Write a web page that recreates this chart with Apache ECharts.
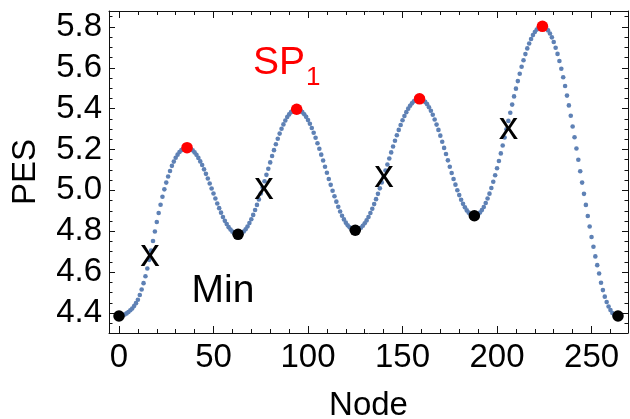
<!DOCTYPE html>
<html>
<head>
<meta charset="utf-8">
<script src="https://cdn.jsdelivr.net/npm/echarts@6/dist/echarts.min.js"></script>
<style>
html,body{margin:0;padding:0;background:#fff;}
#c{width:630px;height:419px;}
</style>
</head>
<body>
<div id="c"></div>
<script>
// PES value at each node (node index = array index, 0..264)
const pes = [
4.385,4.386,4.388,4.392,4.398,4.405,4.413,4.422,4.434,4.448,
4.465,4.488,4.515,4.546,4.580,4.618,4.660,4.705,4.752,4.799,
4.845,4.889,4.930,4.969,5.005,5.038,5.068,5.095,5.120,5.141,
5.160,5.175,5.188,5.197,5.204,5.208,5.209,
5.208,5.203,5.196,5.186,5.174,5.159,5.142,5.124,5.103,5.081,
5.058,5.034,5.009,4.985,4.960,4.936,4.913,4.891,4.870,4.851,
4.835,4.820,4.808,4.798,4.791,4.786,4.785,
4.787,4.791,4.799,4.810,4.823,4.840,4.859,4.880,4.904,4.929,
4.956,4.985,5.014,5.045,5.076,5.106,5.137,5.168,5.197,5.226,
5.253,5.278,5.302,5.323,5.342,5.359,5.372,5.383,5.391,5.395,5.397,
5.395,5.391,5.383,5.373,5.360,5.344,5.326,5.305,5.282,5.258,
5.231,5.204,5.175,5.146,5.116,5.086,5.056,5.027,4.998,4.971,
4.945,4.920,4.897,4.876,4.858,4.842,4.829,4.819,4.811,4.806,4.805,
4.806,4.811,4.817,4.827,4.839,4.853,4.870,4.889,4.910,4.933,
4.957,4.983,5.010,5.039,5.067,5.097,5.127,5.156,5.186,5.215,
5.243,5.270,5.296,5.320,5.343,5.364,5.383,5.400,5.414,5.426,
5.436,5.443,5.447,5.448,
5.446,5.441,5.433,5.422,5.407,5.390,5.370,5.347,5.322,5.296,
5.268,5.238,5.208,5.178,5.147,5.116,5.085,5.056,5.028,5.001,
4.977,4.954,4.934,4.917,4.902,4.891,4.883,4.878,4.876,
4.878,4.883,4.892,4.904,4.919,4.938,4.960,4.984,5.012,5.042,
5.074,5.108,5.144,5.181,5.220,5.259,5.299,5.340,5.380,5.420,
5.460,5.498,5.535,5.571,5.605,5.637,5.667,5.695,5.719,5.741,
5.760,5.775,5.787,5.796,5.801,5.803,
5.801,5.794,5.783,5.768,5.749,5.726,5.698,5.668,5.633,5.595,
5.554,5.511,5.464,5.416,5.365,5.313,5.260,5.205,5.150,5.094,
5.038,4.983,4.929,4.875,4.823,4.772,4.724,4.677,4.634,4.593,
4.548,4.512,4.480,4.454,4.432,4.414,4.400,4.391,4.386,4.385
];

// nodes of the minima (black) and saddle points (red)
const minNodes = [0, 63, 125, 188, 264];
const maxNodes = [36, 94, 159, 224];

// tick values
const xMajorTicks = [0, 50, 100, 150, 200, 250];
const xMinorTicks = [10,20,30,40,60,70,80,90,110,120,130,140,160,170,180,190,210,220,230,240,260];
const yMajorTicks = [4.4, 4.6, 4.8, 5.0, 5.2, 5.4, 5.6, 5.8];
const yMinorTicks = [4.35,4.45,4.5,4.55,4.65,4.7,4.75,4.85,4.9,4.95,5.05,5.1,5.15,5.25,5.3,5.35,5.45,5.5,5.55,5.65,5.7,5.75,5.85];

// text annotations (data coordinates)
const blackNoteText = ['x', 'x', 'x', 'x', 'Min'];
const blackNoteNode = [16.4, 76.7, 140.2, 206.1, 55.0];
const blackNotePes  = [4.682, 5.012, 5.069, 5.302, 4.504];
const redNoteText = ['SP', '1'];
const redNoteNode = [84.6, 102.8];
const redNotePes  = [5.622, 5.553];

const X_MIN = -5.28, X_MAX = 269.28, Y_MIN = 4.302, Y_MAX = 5.878;
const FONT = 'Liberation Sans, Arial, sans-serif';
const AX = '#111';

const chart = echarts.init(document.getElementById('c'), null, {renderer: 'canvas'});

function xAxisDef(pos, values, len, labels, line) {
  return {
    type: 'value', position: pos, min: X_MIN, max: X_MAX,
    axisLine: {show: line, onZero: false, lineStyle: {color: AX, width: 1}},
    axisTick: {show: true, inside: true, length: len, customValues: values, lineStyle: {color: AX, width: 1}},
    axisLabel: labels ? {show: true, customValues: values, margin: 8, fontSize: 33, color: '#000', fontFamily: FONT} : {show: false},
    splitLine: {show: false}
  };
}
function yAxisDef(pos, values, len, labels, line) {
  return {
    type: 'value', position: pos, min: Y_MIN, max: Y_MAX,
    axisLine: {show: line, onZero: false, lineStyle: {color: AX, width: 1}},
    axisTick: {show: true, inside: true, length: len, customValues: values, lineStyle: {color: AX, width: 1}},
    axisLabel: labels ? {show: true, customValues: values, margin: 7, fontSize: 33, color: '#000', fontFamily: FONT,
      formatter: v => v.toFixed(1)} : {show: false},
    splitLine: {show: false}
  };
}

const xAxes = [
  xAxisDef('bottom', xMajorTicks, 7, true, true),
  xAxisDef('bottom', xMinorTicks, 4, false, false),
  xAxisDef('top', xMajorTicks, 7, false, true),
  xAxisDef('top', xMinorTicks, 4, false, false)
];
Object.assign(xAxes[0], {name: 'Node', nameLocation: 'middle', nameGap: 56,
  nameTextStyle: {fontSize: 33, color: '#000', fontFamily: FONT}});
const yAxes = [
  yAxisDef('left', yMajorTicks, 6, true, true),
  yAxisDef('left', yMinorTicks, 3.5, false, false),
  yAxisDef('right', yMajorTicks, 6, false, true),
  yAxisDef('right', yMinorTicks, 3.5, false, false)
];
Object.assign(yAxes[0], {name: 'PES', nameLocation: 'middle', nameGap: 67,
  nameTextStyle: {fontSize: 33, color: '#000', fontFamily: FONT}});

const curveData = pes.map((v, i) => [i, v]);
const minData = minNodes.map(n => [n, pes[n]]);
const maxData = maxNodes.map(n => [n, pes[n]]);
const blackNotes = blackNoteText.map((t, i) => ({name: t, value: [blackNoteNode[i], blackNotePes[i]]}));
const redNotes = redNoteText.map((t, i) => ({name: t, value: [redNoteNode[i], redNotePes[i]],
  label: {fontSize: t === '1' ? 26 : 39}}));

chart.setOption({
  animation: false,
  backgroundColor: '#fff',
  textStyle: {fontFamily: FONT},
  grid: {left: 109, right: 2, top: 11, bottom: 86, containLabel: false, outerBoundsMode: 'none'},
  xAxis: xAxes,
  yAxis: yAxes,
  series: [
    {type: 'scatter', data: curveData, symbolSize: 4.6, itemStyle: {color: '#5E81B5', opacity: 1}, silent: true, clip: false, z: 2},
    {type: 'scatter', data: minData, symbolSize: 11.5, itemStyle: {color: '#000', opacity: 1}, silent: true, clip: false, z: 3},
    {type: 'scatter', data: maxData, symbolSize: 11.5, itemStyle: {color: '#FF0000', opacity: 1}, silent: true, clip: false, z: 3},
    {type: 'scatter', data: blackNotes, symbolSize: 0, itemStyle: {opacity: 1}, silent: true, clip: false, z: 4,
      label: {show: true, position: 'inside', formatter: '{b}', fontSize: 39, color: '#000', fontFamily: FONT}},
    {type: 'scatter', data: redNotes, symbolSize: 0, itemStyle: {opacity: 1}, silent: true, clip: false, z: 4,
      label: {show: true, position: 'inside', formatter: '{b}', fontSize: 39, color: '#FF0000', fontFamily: FONT}}
  ]
});
</script>
</body>
</html>
